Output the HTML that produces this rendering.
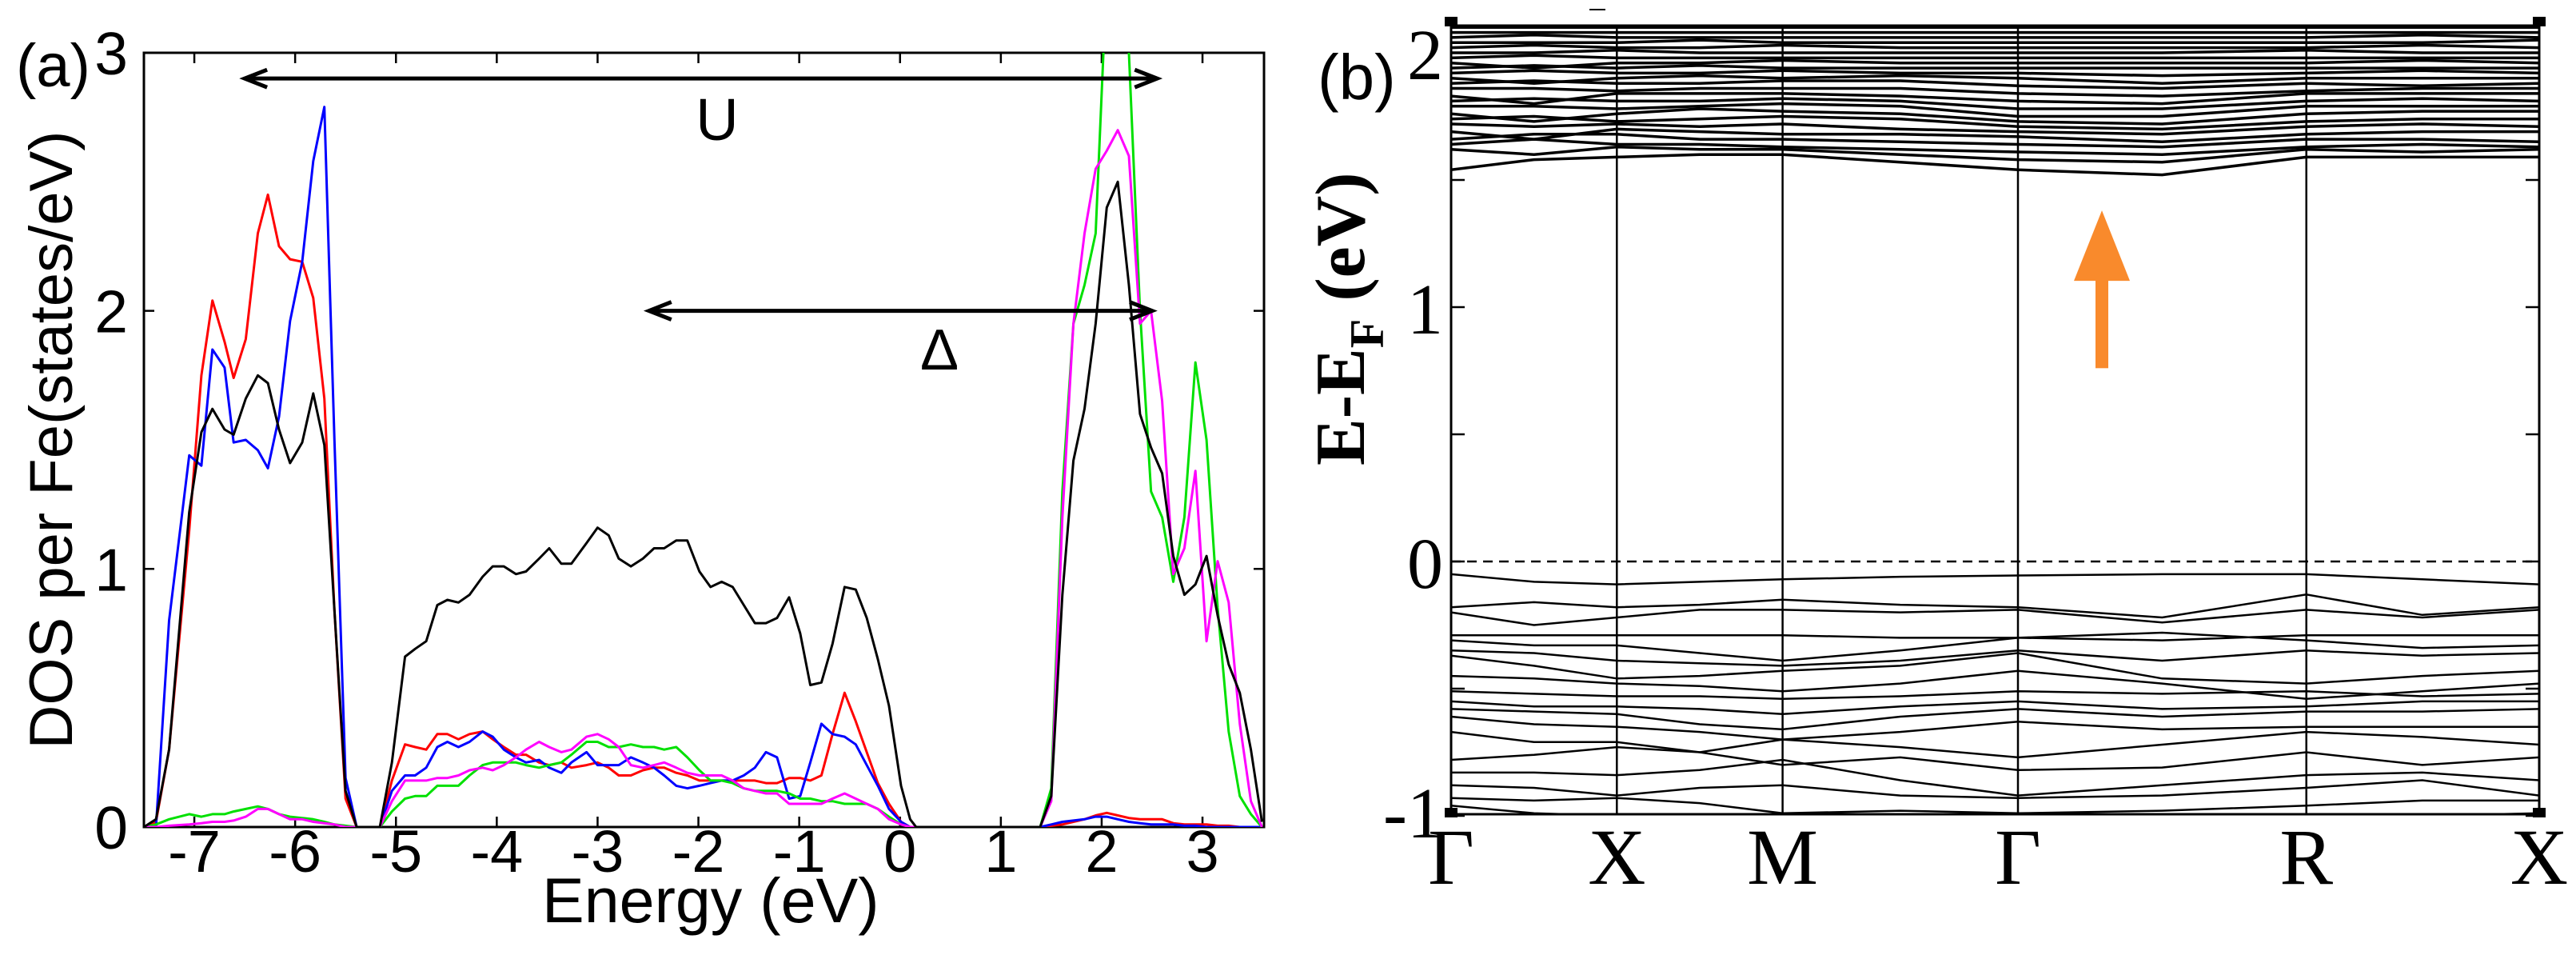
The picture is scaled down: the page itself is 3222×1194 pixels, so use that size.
<!DOCTYPE html>
<html><head><meta charset="utf-8"><style>
html,body{margin:0;padding:0;background:#fff}
svg{display:block}
</style></head><body>
<svg id="fig" width="3222" height="1194" viewBox="0 0 3222 1194" xmlns="http://www.w3.org/2000/svg">
<defs><clipPath id="clipA"><rect x="180" y="66" width="1401" height="968"/></clipPath>
<clipPath id="clipB"><rect x="1815" y="32" width="1361" height="986"/></clipPath></defs>
<g id="panelA"></g>
<g id="panelB"></g>
</svg>
<script>
// ---------- Panel (a) data ----------
const energies = [-7.50,-7.38,-7.25,-7.05,-6.93,-6.82,-6.70,-6.61,-6.49,-6.37,-6.27,-6.16,-6.05,-5.93,-5.82,-5.71,-5.61,-5.50,-5.39,
-5.16,-5.04,-4.91,-4.81,-4.70,-4.59,-4.49,-4.38,-4.27,-4.14,-4.04,-3.93,-3.81,-3.71,-3.58,-3.48,-3.36,-3.26,-3.11,-3.00,-2.89,-2.79,-2.67,-2.55,-2.44,-2.34,-2.22,-2.11,-1.99,-1.88,-1.77,-1.66,-1.55,-1.44,-1.33,-1.22,-1.10,-0.99,-0.89,-0.78,-0.67,-0.55,-0.44,-0.33,-0.22,-0.11,0.01,0.10,0.16,
1.39,1.50,1.61,1.72,1.83,1.94,2.05,2.16,2.27,2.38,2.49,2.60,2.71,2.82,2.93,3.04,3.15,3.26,3.37,3.48,3.59];
const dosBlack = [0,0.03,0.30,1.22,1.53,1.62,1.54,1.52,1.66,1.75,1.72,1.54,1.41,1.49,1.68,1.48,0.84,0.14,0,
0,0.25,0.66,0.69,0.72,0.86,0.88,0.87,0.90,0.97,1.01,1.01,0.98,0.99,1.04,1.08,1.02,1.02,1.10,1.16,1.13,1.04,1.01,1.04,1.08,1.08,1.11,1.11,0.99,0.93,0.95,0.93,0.86,0.79,0.79,0.81,0.89,0.75,0.55,0.56,0.71,0.93,0.92,0.81,0.65,0.47,0.16,0.03,0,
0,0.12,0.9,1.42,1.62,1.95,2.40,2.50,2.1,1.6,1.47,1.37,1.05,0.90,0.94,1.05,0.82,0.63,0.52,0.30,0.02];
const dosRed = [0,0.02,0.30,1.15,1.75,2.04,1.88,1.74,1.89,2.30,2.45,2.25,2.20,2.19,2.05,1.66,0.84,0.11,0,
0,0.18,0.32,0.31,0.30,0.36,0.36,0.34,0.36,0.37,0.34,0.31,0.28,0.28,0.25,0.24,0.25,0.23,0.24,0.25,0.23,0.20,0.20,0.22,0.23,0.23,0.21,0.20,0.18,0.18,0.18,0.18,0.18,0.18,0.17,0.17,0.19,0.19,0.18,0.20,0.36,0.52,0.41,0.29,0.17,0.09,0.02,0,0,
0,0.005,0.01,0.02,0.03,0.045,0.055,0.045,0.035,0.03,0.03,0.03,0.015,0.01,0.01,0.01,0.005,0.005,0,0,0];
const dosBlue = [0,0,0.8,1.44,1.40,1.85,1.78,1.49,1.50,1.46,1.39,1.59,1.96,2.19,2.58,2.79,1.5,0.19,0,
0,0.14,0.20,0.20,0.23,0.31,0.33,0.31,0.33,0.37,0.35,0.30,0.27,0.25,0.26,0.23,0.21,0.25,0.29,0.24,0.24,0.24,0.27,0.25,0.23,0.20,0.16,0.15,0.16,0.17,0.18,0.18,0.20,0.23,0.29,0.27,0.11,0.12,0.25,0.40,0.36,0.35,0.32,0.24,0.16,0.07,0.02,0,0,
0,0.01,0.02,0.025,0.03,0.04,0.04,0.03,0.02,0.015,0.01,0.01,0.01,0.005,0.005,0,0,0,0,0,0];
const dosGreen = [0,0.01,0.03,0.05,0.04,0.05,0.05,0.06,0.07,0.08,0.07,0.05,0.04,0.035,0.03,0.02,0.01,0.005,0,
0,0.06,0.11,0.12,0.12,0.16,0.16,0.16,0.20,0.24,0.25,0.25,0.25,0.24,0.23,0.24,0.25,0.28,0.33,0.33,0.31,0.31,0.32,0.31,0.31,0.30,0.31,0.27,0.22,0.18,0.18,0.17,0.15,0.14,0.14,0.14,0.13,0.11,0.11,0.10,0.10,0.09,0.09,0.09,0.07,0.04,0.01,0,0,
0,0.15,1.3,1.95,2.1,2.3,3.3,3.4,3.0,2.0,1.3,1.20,0.95,1.2,1.8,1.5,0.85,0.37,0.12,0.05,0];
const dosMagenta = [0,0,0.005,0.01,0.015,0.02,0.02,0.025,0.04,0.07,0.07,0.05,0.03,0.03,0.02,0.015,0.01,0,0,
0,0.10,0.18,0.18,0.18,0.19,0.19,0.20,0.22,0.23,0.22,0.24,0.27,0.30,0.33,0.31,0.29,0.30,0.35,0.36,0.34,0.31,0.24,0.23,0.24,0.25,0.23,0.21,0.20,0.20,0.20,0.18,0.15,0.14,0.13,0.13,0.09,0.09,0.09,0.09,0.11,0.13,0.11,0.09,0.07,0.03,0.01,0,0,
0,0.1,1.2,1.95,2.3,2.55,2.62,2.7,2.6,1.95,2.0,1.65,0.98,1.08,1.38,0.72,1.03,0.87,0.40,0.10,0];
const xTicksA = [-7,-6,-5,-4,-3,-2,-1,0,1,2,3];
const yTicksA = [0,1,2,3];
const arrowU = [-6.5, 2.55, 2.9];
const arrowDelta = [-2.49, 2.5, 2.0];

// ---------- Panel (b) data ----------
const kSamples = [0,1,2,3,4,5.42,6.84,8.58,10.32,11.72,13.13];
const kNodes = [0,2,4,6.84,10.32,13.13];
const kLabels = ["Γ","X","M","Γ","R","X"];
const yTicksB = [-1,0,1,2];
const valenceBands = [
[-0.05,-0.08,-0.09,-0.08,-0.07,-0.06,-0.055,-0.05,-0.05,-0.07,-0.09],
[-0.18,-0.16,-0.18,-0.17,-0.15,-0.17,-0.18,-0.22,-0.13,-0.21,-0.18],
[-0.20,-0.25,-0.22,-0.19,-0.19,-0.20,-0.19,-0.24,-0.19,-0.22,-0.19],
[-0.29,-0.29,-0.29,-0.29,-0.29,-0.30,-0.30,-0.31,-0.29,-0.29,-0.29],
[-0.31,-0.33,-0.33,-0.36,-0.39,-0.35,-0.30,-0.28,-0.31,-0.34,-0.33],
[-0.35,-0.36,-0.39,-0.40,-0.41,-0.39,-0.35,-0.39,-0.35,-0.37,-0.36],
[-0.37,-0.41,-0.46,-0.45,-0.43,-0.41,-0.36,-0.46,-0.48,-0.45,-0.43],
[-0.45,-0.46,-0.48,-0.49,-0.51,-0.48,-0.43,-0.48,-0.54,-0.51,-0.48],
[-0.51,-0.52,-0.53,-0.53,-0.54,-0.53,-0.51,-0.52,-0.51,-0.53,-0.52],
[-0.55,-0.57,-0.57,-0.58,-0.60,-0.57,-0.55,-0.58,-0.57,-0.55,-0.55],
[-0.58,-0.59,-0.60,-0.64,-0.66,-0.61,-0.58,-0.61,-0.59,-0.59,-0.58],
[-0.61,-0.64,-0.65,-0.67,-0.70,-0.67,-0.63,-0.66,-0.65,-0.65,-0.65],
[-0.67,-0.71,-0.71,-0.75,-0.70,-0.73,-0.77,-0.72,-0.67,-0.69,-0.72],
[-0.78,-0.76,-0.73,-0.75,-0.80,-0.77,-0.82,-0.81,-0.75,-0.80,-0.77],
[-0.83,-0.83,-0.84,-0.82,-0.78,-0.86,-0.92,-0.88,-0.84,-0.83,-0.86],
[-0.88,-0.89,-0.92,-0.89,-0.88,-0.92,-0.93,-0.92,-0.89,-0.86,-0.92],
[-0.93,-0.94,-0.93,-0.95,-0.99,-0.98,-0.99,-0.98,-0.96,-0.94,-0.94],
[-0.96,-0.99,-1.0,-1.0,-1.0,-1.0,-1.0,-1.0,-1.0,-1.0,-0.99]];
const conductionBands = [
[1.54,1.58,1.59,1.60,1.60,1.57,1.54,1.52,1.59,1.59,1.59],
[1.62,1.60,1.63,1.62,1.62,1.60,1.58,1.57,1.62,1.61,1.62],
[1.64,1.66,1.64,1.64,1.63,1.62,1.61,1.60,1.63,1.64,1.63],
[1.66,1.68,1.68,1.66,1.66,1.65,1.64,1.63,1.66,1.66,1.65],
[1.69,1.66,1.70,1.69,1.68,1.68,1.67,1.65,1.68,1.69,1.69],
[1.72,1.71,1.72,1.71,1.72,1.70,1.69,1.68,1.71,1.72,1.71],
[1.74,1.75,1.73,1.74,1.75,1.74,1.71,1.70,1.73,1.74,1.74],
[1.76,1.73,1.76,1.78,1.77,1.76,1.73,1.72,1.76,1.77,1.77],
[1.79,1.79,1.78,1.79,1.80,1.79,1.75,1.75,1.79,1.79,1.79],
[1.81,1.82,1.81,1.81,1.82,1.81,1.78,1.78,1.81,1.82,1.81],
[1.83,1.80,1.84,1.84,1.84,1.83,1.81,1.80,1.84,1.84,1.84],
[1.86,1.86,1.85,1.86,1.86,1.86,1.84,1.83,1.85,1.86,1.86],
[1.88,1.89,1.88,1.88,1.89,1.89,1.87,1.86,1.88,1.87,1.88],
[1.90,1.88,1.90,1.91,1.90,1.91,1.90,1.88,1.90,1.90,1.90],
[1.92,1.93,1.92,1.92,1.93,1.92,1.92,1.91,1.92,1.93,1.92],
[1.94,1.95,1.94,1.95,1.94,1.94,1.94,1.94,1.94,1.94,1.94],
[1.96,1.94,1.96,1.96,1.97,1.96,1.96,1.96,1.96,1.97,1.96],
[1.98,1.99,1.98,1.98,1.98,1.98,1.98,1.98,1.98,1.98,1.98],
[2.00,2.00,2.01,2.00,2.00,2.00,2.00,2.00,2.01,2.00,2.00],
[2.02,2.03,2.02,2.02,2.03,2.02,2.02,2.02,2.02,2.03,2.02],
[2.04,2.04,2.04,2.05,2.04,2.04,2.04,2.04,2.04,2.04,2.05],
[2.06,2.07,2.06,2.06,2.06,2.06,2.06,2.06,2.06,2.07,2.06],
[2.08,2.08,2.08,2.08,2.08,2.08,2.08,2.08,2.08,2.08,2.08],
[2.10,2.10,2.10,2.10,2.10,2.10,2.10,2.10,2.10,2.10,2.10]];
const arrowGap = [1.38, 0.76];

const NS = "http://www.w3.org/2000/svg";
function mk(parent, tag, attrs, text){
  const e = document.createElementNS(NS, tag);
  for (const k in attrs) e.setAttribute(k, attrs[k]);
  if (text !== undefined) e.textContent = text;
  parent.appendChild(e); return e;
}
// Panel (a) axes
const A = document.getElementById('panelA');
const ax = e => 180 + (e + 7.5) * 126.1;
const ay = d => 1034 - d * 322.7;
const SANS = '"Liberation Sans", "DejaVu Sans", sans-serif';
const SERIF = '"Liberation Serif", "DejaVu Serif", serif';

let fr = mk(A, 'rect', {x:180, y:66, width:1401, height:968, fill:'none', stroke:'#000', 'stroke-width':3});


xTicksA.forEach(v => {
  const x = ax(v);
  let t = mk(A, 'path', {d:`M${x},1034 V1021 M${x},66 V79`, stroke:'#000', 'stroke-width':2.5});
  
  
  let l = mk(A, 'text', {x:x, y:1090, 'font-family':SANS, 'font-size':74, 'text-anchor':'middle'}, String(v));
  
  
});
yTicksA.forEach(v => {
  const y = ay(v);
  let t = mk(A, 'path', {d:`M180,${y} H193 M1581,${y} H1568`, stroke:'#000', 'stroke-width':2.5});
  
  
  let l = mk(A, 'text', {x:160, y:y + 27, 'font-family':SANS, 'font-size':75, 'text-anchor':'end'}, String(v));
  
  
});
const seriesA = [['dos-red', dosRed, '#ff0000'], ['dos-blue', dosBlue, '#0000ff'], ['dos-green', dosGreen, '#00e000'], ['dos-magenta', dosMagenta, '#ff00ff'], ['dos-total-black', dosBlack, '#000000']];
const gA = mk(A, 'g', {'clip-path':'url(#clipA)'});
seriesA.forEach(s => {
  const pts = energies.map((e, i) => ax(e).toFixed(1) + ',' + ay(s[1][i]).toFixed(1)).join(' ');
  let p = mk(gA, 'polyline', {points:pts, fill:'none', stroke:s[2], 'stroke-width':3, 'stroke-linejoin':'round'});
  
  
});
function dblArrow(parent, x1, x2, y, name){
  const g = mk(parent, 'g', {});
  
  
  mk(g, 'line', {x1:x1 + 4, y1:y, x2:x2 - 4, y2:y, stroke:'#000', 'stroke-width':5});
  mk(g, 'path', {d:`M${x1 + 28},${y - 11} L${x1},${y} L${x1 + 28},${y + 11}`, fill:'none', stroke:'#000', 'stroke-width':5});
  mk(g, 'path', {d:`M${x2 - 28},${y - 11} L${x2},${y} L${x2 - 28},${y + 11}`, fill:'none', stroke:'#000', 'stroke-width':5});
}
dblArrow(A, ax(arrowU[0]), ax(arrowU[1]), ay(arrowU[2]), 'u-arrow');
dblArrow(A, ax(arrowDelta[0]), ax(arrowDelta[1]), ay(arrowDelta[2]), 'delta-arrow');
let tU = mk(A, 'text', {x:897, y:175, 'font-family':SANS, 'font-size':74, 'text-anchor':'middle'}, 'U');


let tD = mk(A, 'text', {x:1175, y:462, 'font-family':SANS, 'font-size':72, 'text-anchor':'middle'}, 'Δ');


let ta = mk(A, 'text', {x:20, y:108, 'font-family':SANS, 'font-size':76}, '(a)');


let xt = mk(A, 'text', {x:678, y:1153, 'font-family':SANS, 'font-size':79}, 'Energy (eV)');


let yt = mk(A, 'text', {x:0, y:0, transform:'translate(90,550) rotate(-90)', 'font-family':SANS, 'font-size':76, 'text-anchor':'middle'}, 'DOS per Fe(states/eV)');



// Panel (b)
const B = document.getElementById('panelB');
const bx = k => 1815 + k * (1361 / 13.13);
const by = e => 702 - e * 318;
const gB = mk(B, 'g', {'clip-path':'url(#clipB)'});
valenceBands.concat(conductionBands).forEach((band, bi) => {
  const isVal = bi < valenceBands.length;
  const pts = kSamples.map((k, i) => bx(k).toFixed(1) + ',' + by(band[i]).toFixed(1)).join(' ');
  let p = mk(gB, 'polyline', {points:pts, fill:'none', stroke:'#000', 'stroke-width': isVal ? 2.5 : 3.5});
  
  
});
kNodes.forEach((k, i) => {
  const x = bx(k);
  if (i > 0 && i < kNodes.length - 1) {
    let v = mk(B, 'line', {x1:x, y1:32, x2:x, y2:1018, stroke:'#000', 'stroke-width':2.5});
    
    
  }
  let l = mk(B, 'text', {x:x, y:1105, 'font-family':SERIF, 'font-size':100, 'text-anchor':'middle'}, kLabels[i]);
  
  
});
let fl = mk(B, 'line', {x1:1815, y1:by(0), x2:3176, y2:by(0), stroke:'#000', 'stroke-width':2.5, 'stroke-dasharray':'12 8'});


let frB = mk(B, 'rect', {x:1815, y:32, width:1361, height:986, fill:'none', stroke:'#000', 'stroke-width':3});


[[1807,21],[3168,21],[1807,1010],[3168,1010]].forEach(c => {
  let r = mk(B, 'rect', {x:c[0], y:c[1], width:16, height:12, fill:'#000'});
  
  
});
for (let e = -1; e <= 2.0001; e += 0.5) {
  const y = by(e);
  let t = mk(B, 'path', {d:`M1815,${y} H1832 M3176,${y} H3159`, stroke:'#000', 'stroke-width':2.5});
  
  
}
yTicksB.forEach(v => {
  let l = mk(B, 'text', {x:1805, y:by(v) + (v === -1 ? 27 : 33), 'font-family':SERIF, 'font-size':90, 'text-anchor':'end'}, String(v));
  
  
});
const ga = mk(B, 'g', {});


const axc = 2629, tipY = by(arrowGap[0]) + 0, tailY = by(arrowGap[1]);
mk(ga, 'rect', {x:axc - 8, y:tipY + 86, width:16, height:tailY - tipY - 86, fill:'#f98a2c'});
mk(ga, 'polygon', {points:`${axc},${tipY} ${axc - 35},${tipY + 88} ${axc + 35},${tipY + 88}`, fill:'#f98a2c'});
let tb = mk(B, 'text', {x:1648, y:124, 'font-family':SANS, 'font-size':80}, '(b)');


const ytb = mk(B, 'text', {transform:'translate(1706,582) rotate(-90)', 'font-family':SERIF, 'font-weight':'bold', 'font-size':88});


mk(ytb, 'tspan', {}, 'E-E');
mk(ytb, 'tspan', {dy:24, 'font-size':60}, 'F');
mk(ytb, 'tspan', {dy:-24}, ' (eV)');
let dash = mk(B, 'line', {x1:1988, y1:12, x2:2008, y2:12, stroke:'#000', 'stroke-width':2});


</script>
</body></html>
